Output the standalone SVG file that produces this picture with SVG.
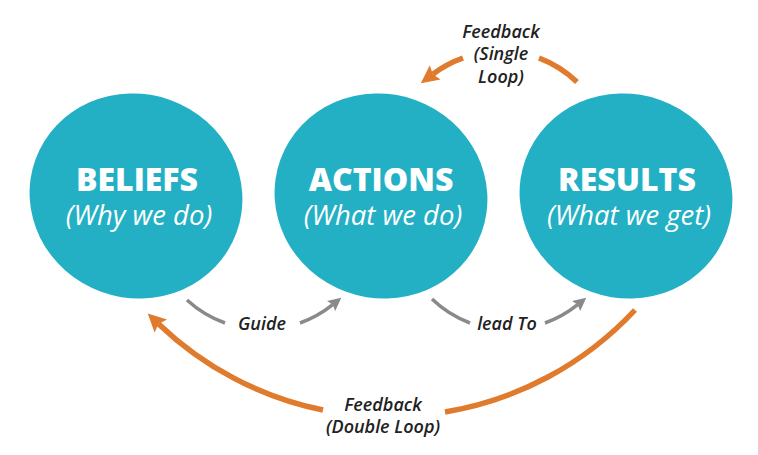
<svg xmlns="http://www.w3.org/2000/svg" width="758" height="455" viewBox="0 0 758 455">
<defs>
<style>
.blob{fill:#23b0c4}
.title{font-family:"Open Sans","Liberation Sans",sans-serif;font-weight:800;font-size:32px;fill:#fff;text-anchor:middle}
.sub{font-family:"Open Sans","Liberation Sans",sans-serif;font-style:italic;font-weight:400;font-size:27.5px;fill:#fff;text-anchor:middle}
.lbl{font-family:"Open Sans","Liberation Sans",sans-serif;font-style:italic;font-weight:600;font-size:18px;fill:#222;text-anchor:middle}
.orange{fill:none;stroke:#e07a2c;stroke-width:5.5}
.grey{fill:none;stroke:#8a8a8a;stroke-width:3.5}
</style>
<marker id="ho" markerUnits="userSpaceOnUse" markerWidth="24" markerHeight="24" viewBox="-2 -11 24 22" refX="3" refY="0" orient="auto">
<path d="M0,-9 L18,0 L0,9 L3,0 Z" fill="#e07a2c"/>
</marker>
<marker id="hg" markerUnits="userSpaceOnUse" markerWidth="18" markerHeight="18" viewBox="-2 -8 18 16" refX="2" refY="0" orient="auto">
<path d="M0,-6.5 L13,0 L0,6.5 L2,0 Z" fill="#8a8a8a"/>
</marker>
</defs>
<rect width="758" height="455" fill="#fff"/>
<g id="beliefs">
<ellipse class="blob" cx="136" cy="196" rx="107" ry="102" transform="rotate(20 136 196)"/>
<text class="title" x="137" y="191">BELIEFS</text>
<text class="sub" x="139" y="225">(Why we do)</text>
</g>
<g id="actions">
<ellipse class="blob" cx="381" cy="196" rx="107" ry="102" transform="rotate(20 381 196)"/>
<text class="title" x="381" y="191">ACTIONS</text>
<text class="sub" x="383" y="225">(What we do)</text>
</g>
<g id="results">
<ellipse class="blob" cx="626" cy="196" rx="107" ry="102" transform="rotate(20 626 196)"/>
<text class="title" x="627" y="191">RESULTS</text>
<text class="sub" x="629" y="225">(What we get)</text>
</g>
<g id="connectors">
<path class="orange" d="M577,82 A113,113 0 0 0 539,58"/>
<path class="orange" d="M463,58 A113,113 0 0 0 432.8,74.2" marker-end="url(#ho)"/>
<path class="grey" d="M187,300 A112,112 0 0 0 225,323"/>
<path class="grey" d="M300,323 A112,112 0 0 0 332.7,304.7" marker-end="url(#hg)"/>
<path class="grey" d="M432,299 A112,112 0 0 0 470,323"/>
<path class="grey" d="M545,323 A112,112 0 0 0 577.7,304.7" marker-end="url(#hg)"/>
<path class="orange" d="M635,310 A334,334 0 0 1 445,412"/>
<path class="orange" d="M323,410 A334,334 0 0 1 158.6,323.9" marker-end="url(#ho)"/>
</g>
<g id="labels">
<text class="lbl" x="501" y="38">Feedback</text>
<text class="lbl" x="501" y="60">(Single</text>
<text class="lbl" x="501" y="83">Loop)</text>
<text class="lbl" x="262" y="330">Guide</text>
<text class="lbl" x="507" y="330">lead To</text>
<text class="lbl" x="383" y="411">Feedback</text>
<text class="lbl" x="383" y="433">(Double Loop)</text>
</g>
</svg>
